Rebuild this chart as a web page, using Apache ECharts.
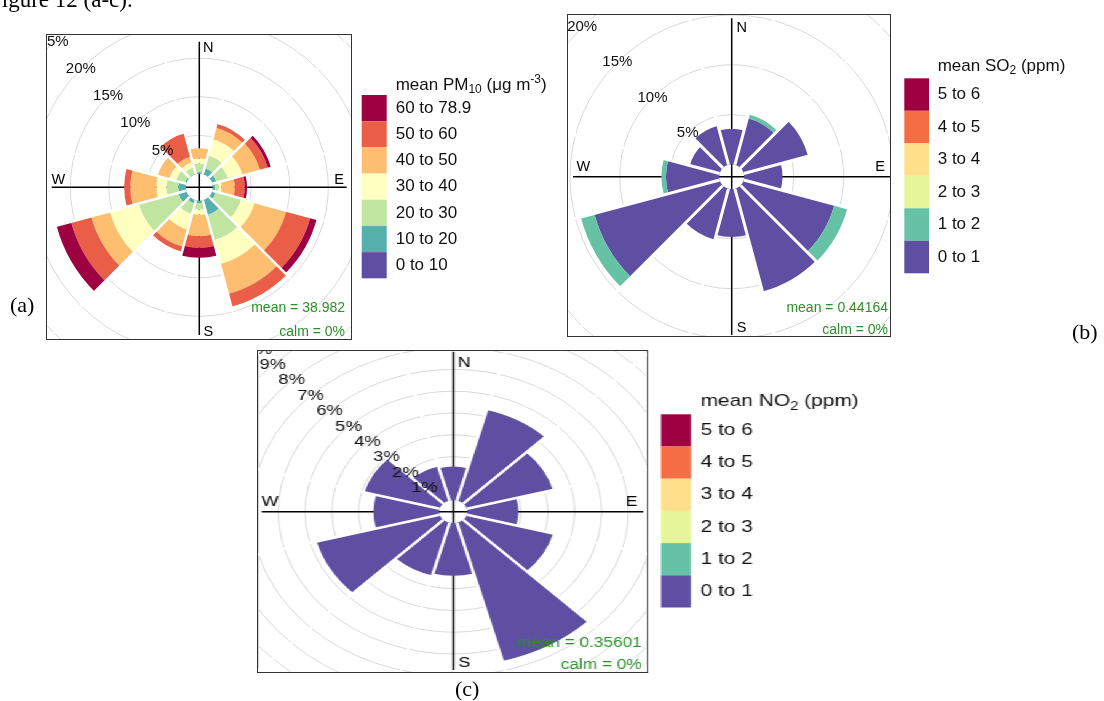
<!DOCTYPE html>
<html><head><meta charset="utf-8">
<script src="https://cdn.jsdelivr.net/npm/echarts@6/dist/echarts.min.js"></script>
<style>
html,body{margin:0;padding:0;background:#fff;width:1104px;height:701px;overflow:hidden;position:relative;}
.abs{position:absolute;}
.box{box-sizing:border-box;border:1px solid #333;background:#fff;}
</style></head><body>
<div id="page" class="abs" style="left:0;top:0;width:1104px;height:701px;"></div>
<div id="roseA" class="abs box" style="left:46px;top:34px;width:306px;height:306px;"></div>
<div id="roseB" class="abs box" style="left:567px;top:14px;width:324px;height:323px;"></div>
<div id="wrapC" class="abs" style="left:257px;top:350px;width:510px;height:330px;transform:scaleX(1.23);transform-origin:0 0;">
  <div id="roseC" class="abs box" style="left:0;top:0;width:318px;height:323px;"></div>
  <div id="legC" class="abs" style="left:320px;top:0;width:190px;height:330px;"></div>
</div>
<script>
// wind direction sectors (degrees, clockwise from North)
const directions = ['0','30','60','90','120','150','180','210','240','270','300','330'];

// (a) PM10 pollution rose, % per concentration band per direction
const pm10Bands = ['0 to 10','10 to 20','20 to 30','30 to 40','40 to 50','50 to 60','60 to 78.9'];
const pm10_0_10  = [0, 0, 0, 0, 0, 0, 0, 0, 0, 0, 0, 0];
const pm10_10_20 = [0.2, 0.85, 0.6, 0.3, 0.5, 2.0, 0.3, 0.45, 1.1, 1.0, 0.2, 0.1];
const pm10_20_30 = [1.15, 1.7, 1.55, 0.5, 3.4, 3.4, 0.85, 1.4, 5.3, 1.5, 1.2, 0.85];
const pm10_30_40 = [0.65, 2.2, 1.95, 0.35, 1.8, 3.2, 0.65, 2.1, 3.9, 1.3, 0.9, 0.65];
const pm10_40_50 = [1.3, 1.55, 2.35, 1.7, 4.3, 4.0, 2.8, 2.3, 2.5, 3.4, 1.55, 0.8];
const pm10_50_60 = [0, 0.5, 1.05, 1.3, 3.2, 1.7, 1.5, 0.65, 2.7, 0.8, 0, 3.1];
const pm10_60_79 = [0, 0, 0.4, 0.3, 0.85, 0, 1.3, 0, 1.95, 0, 0, 0];
const pm10Ticks = [0, 5, 10, 15, 20, 25, 30];

// (b) SO2 pollution rose
const so2Bands = ['0 to 1','1 to 2','2 to 3','3 to 4','4 to 5','5 to 6'];
const so2_0_1 = [3.55, 4.85, 6.7, 3.85, 9.45, 10.7, 4.8, 5.3, 13.05, 5.35, 3.1, 4.05];
const so2_1_2 = [0, 0.4, 0, 0, 1.35, 0, 0, 0, 1.4, 0.45, 0, 0];
const so2_2_3 = [0, 0, 0, 0, 0, 0, 0, 0, 0, 0, 0, 0];
const so2_3_4 = [0, 0, 0, 0, 0, 0, 0, 0, 0, 0, 0, 0];
const so2_4_5 = [0, 0, 0, 0, 0, 0, 0, 0, 0, 0, 0, 0];
const so2_5_6 = [0, 0, 0, 0, 0, 0, 0, 0, 0, 0, 0, 0];
const so2Ticks = [0, 5, 10, 15, 20, 25];

// (c) NO2 pollution rose
const no2Bands = ['0 to 1','1 to 2','2 to 3','3 to 4','4 to 5','5 to 6'];
const no2_0_1 = [1.54, 4.3, 3.32, 1.9, 3.33, 6.56, 2.41, 2.5, 4.75, 2.45, 2.9, 1.62];
const no2_1_2 = [0, 0, 0, 0, 0, 0, 0, 0, 0, 0, 0, 0];
const no2_2_3 = [0, 0, 0, 0, 0, 0, 0, 0, 0, 0, 0, 0];
const no2_3_4 = [0, 0, 0, 0, 0, 0, 0, 0, 0, 0, 0, 0];
const no2_4_5 = [0, 0, 0, 0, 0, 0, 0, 0, 0, 0, 0, 0];
const no2_5_6 = [0, 0, 0, 0, 0, 0, 0, 0, 0, 0, 0, 0];
const no2Ticks = [0, 1, 2, 3, 4, 5, 6, 7, 8, 9, 10, 11, 12];

const pm10Colors = ['#5E4FA2','#55AFAD','#BFE5A0','#FFFFBF','#FDBF6F','#EA5D47','#9E0142'];
const sixColors  = ['#5E4FA2','#66C2A5','#E6F598','#FEE08B','#F46D43','#9E0142'];

const SANS = '"Liberation Sans", Arial, sans-serif';
const SERIF = '"Liberation Serif", "Times New Roman", serif';

function roseOption(c) {
  const ticks = c.ticks;
  const max = ticks[ticks.length - 1];
  const interval = ticks[1] - ticks[0];
  const radius = [c.r0, c.r0 + c.k * max];
  const ringColors = ['rgba(0,0,0,0)'].concat(ticks.slice(1).map(() => '#d9d9d9'));
  const [cx, cy] = c.center;
  const series = c.bands.map((name, i) => ({
    type: 'bar', coordinateSystem: 'polar', polarIndex: 0, name: name,
    stack: 'rose', data: c.values[i], barCategoryGap: '0%', silent: true,
    itemStyle: { color: c.colors[i] }, z: 2
  }));
  const txt = (x, y, s, align, size, color) => ({
    type: 'text', x: x, y: y, z: 30, silent: true,
    style: { text: s, fontSize: size, fontFamily: SANS, fill: color,
             align: align, verticalAlign: 'middle' }
  });
  const L = c.lines;
  const graphics = [
    { type: 'line', z: 1, silent: true, shape: { x1: cx, y1: cy - L[0], x2: cx, y2: cy + L[1] },
      style: { stroke: '#000', lineWidth: 1.5 } },
    { type: 'line', z: 1, silent: true, shape: { x1: cx - L[2], y1: cy, x2: cx + L[3], y2: cy },
      style: { stroke: '#000', lineWidth: 1.5 } }
  ];
  c.compass.forEach(p => graphics.push(txt(cx + p[1], cy + p[2], p[0], 'center', 14.5, '#000')));
  graphics.push(txt(c.meanPos[0], c.meanPos[1], c.meanText, 'right', 14, '#2b8f2b'));
  graphics.push(txt(c.meanPos[0], c.meanPos[2], 'calm = 0%', 'right', 14, '#2b8f2b'));
  return {
    animation: false,
    polar: [
      { center: [cx, cy], radius: radius },
      { center: [cx, cy], radius: radius }
    ],
    angleAxis: [
      { polarIndex: 0, type: 'category', data: directions, startAngle: 105, clockwise: true,
        boundaryGap: true, z: 5,
        axisLine: { show: false }, axisTick: { show: false }, axisLabel: { show: false },
        splitLine: { show: true, interval: 0, lineStyle: { color: '#ffffff', width: c.gap } } },
      { polarIndex: 1, type: 'value', min: 0, max: 360, startAngle: 135, show: false }
    ],
    radiusAxis: [
      { polarIndex: 0, type: 'value', min: 0, max: max, interval: interval, z: 0,
        axisLine: { show: false }, axisTick: { show: false }, axisLabel: { show: false },
        splitLine: { show: true, lineStyle: { color: ringColors, width: 1 } } },
      { polarIndex: 1, type: 'value', min: 0, max: max, interval: interval, z: 30,
        axisLine: { show: false }, axisTick: { show: false }, splitLine: { show: false },
        axisLabel: { show: true, showMinLabel: false, formatter: '{value}%', margin: 0,
                     align: 'center', verticalAlign: 'middle', fontSize: 15,
                     fontFamily: SANS, color: '#111' } }
    ],
    series: series,
    graphic: { elements: graphics }
  };
}

function legendElements(x0, yTitle, boxX, boxW, boxY, boxH, textX, titleRich, bands, colors) {
  const els = [];
  els.push({ type: 'text', x: x0, y: yTitle, silent: true,
    style: { text: titleRich, fontFamily: SANS, verticalAlign: 'middle', align: 'left',
      rich: {
        t: { fontSize: 17, fontFamily: SANS, fill: '#111', lineHeight: 22 },
        s: { fontSize: 12, fontFamily: SANS, fill: '#111', lineHeight: 12, verticalAlign: 'bottom' },
        p: { fontSize: 12, fontFamily: SANS, fill: '#111', lineHeight: 12, verticalAlign: 'top' }
      } } });
  const n = bands.length;
  for (let j = 0; j < n; j++) {
    const i = n - 1 - j;
    els.push({ type: 'rect', silent: true,
      shape: { x: boxX, y: boxY + j * boxH, width: boxW, height: boxH },
      style: { fill: colors[i] } });
    els.push({ type: 'text', x: textX, y: boxY + (j + 0.5) * boxH, silent: true,
      style: { text: bands[i], fontSize: 17, fontFamily: SANS, fill: '#111',
               align: 'left', verticalAlign: 'middle' } });
  }
  return els;
}

// page: captions and legends (a), (b)
const page = echarts.init(document.getElementById('page'));
const pageEls = [
  { type: 'text', x: -11, y: 1, style: { text: 'Figure 12 (a-c).', fontSize: 23, fontFamily: SERIF, fill: '#000', verticalAlign: 'middle' } },
  { type: 'text', x: 10, y: 306, style: { text: '(a)', fontSize: 22, fontFamily: SERIF, fill: '#000', verticalAlign: 'middle' } },
  { type: 'text', x: 1072, y: 333, style: { text: '(b)', fontSize: 22, fontFamily: SERIF, fill: '#000', verticalAlign: 'middle' } },
  { type: 'text', x: 455, y: 690, style: { text: '(c)', fontSize: 22, fontFamily: SERIF, fill: '#000', verticalAlign: 'middle' } }
].concat(
  legendElements(395.7, 85, 361.7, 25, 95, 26.19, 395.7,
    '{t|mean PM}{s|10}{t| (μg m}{p|-3}{t|)}', pm10Bands, pm10Colors),
  legendElements(937.7, 66, 904.3, 24.7, 78.3, 32.5, 937.7,
    '{t|mean SO}{s|2}{t| (ppm)}', so2Bands, sixColors)
);
page.setOption({ animation: false, graphic: { elements: pageEls } });

// (a)
echarts.init(document.getElementById('roseA')).setOption(roseOption({
  center: [152.3, 152.3], r0: 13.5, k: 7.7, ticks: pm10Ticks, gap: 2.5,
  bands: pm10Bands, colors: pm10Colors,
  values: [pm10_0_10, pm10_10_20, pm10_20_30, pm10_30_40, pm10_40_50, pm10_50_60, pm10_60_79],
  lines: [145.6, 147.7, 147.6, 147.4],
  compass: [['N', 9, -139], ['S', 9, 144.4], ['W', -141, -7.3], ['E', 139.7, -7.3]],
  meanText: 'mean = 38.982', meanPos: [298, 273, 296.7]
}));

// (b)
echarts.init(document.getElementById('roseB')).setOption(roseOption({
  center: [163.7, 161.7], r0: 12.5, k: 9.95, ticks: so2Ticks, gap: 3,
  bands: so2Bands, colors: sixColors,
  values: [so2_0_1, so2_1_2, so2_2_3, so2_3_4, so2_4_5, so2_5_6],
  lines: [158.4, 158.3, 158.7, 158.3],
  compass: [['N', 10, -148.4], ['S', 10, 151.3], ['W', -148.4, -10], ['E', 148.3, -10]],
  meanText: 'mean = 0.44164', meanPos: [320, 293, 315]
}));

// (c)
echarts.init(document.getElementById('roseC')).setOption(roseOption({
  center: [158.6, 160.7], r0: 11.5, k: 21.8, ticks: no2Ticks, gap: 2.5,
  bands: no2Bands, colors: sixColors,
  values: [no2_0_1, no2_1_2, no2_2_3, no2_3_4, no2_4_5, no2_5_6],
  lines: [160, 158.3, 155.8, 154.5],
  compass: [['N', 9, -148.4], ['S', 9, 151.6], ['W', -149, -10], ['E', 145, -10]],
  meanText: 'mean = 0.35601', meanPos: [311.8, 292, 314]
}));

echarts.init(document.getElementById('legC')).setOption({
  animation: false,
  graphic: { elements: legendElements(40.7, 51.7, 8.5, 24.3, 64.3, 32.2, 40.7,
    '{t|mean NO}{s|2}{t| (ppm)}', no2Bands, sixColors) }
});
</script>
</body></html>
